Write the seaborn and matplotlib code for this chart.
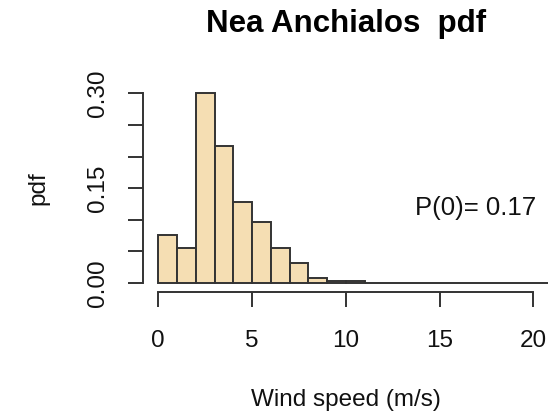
import numpy as np
import pandas as pd
import matplotlib
matplotlib.use("Agg")
import matplotlib.pyplot as plt
import seaborn as sns

# ---- data ----
bin_left = list(range(0, 21))  # 1 m/s wide bins, 0..21
density = [0.075, 0.055, 0.300, 0.217, 0.128, 0.097, 0.055, 0.031, 0.008,
           0.003, 0.002, 0, 0, 0, 0, 0, 0, 0, 0, 0, 0]
p_zero = 0.17
x_ticks = [0, 5, 10, 15, 20]
y_ticks = [0.00, 0.05, 0.10, 0.15, 0.20, 0.25, 0.30]
y_ticklabels = ["0.00", "", "", "0.15", "", "", "0.30"]
title = "Nea Anchialos  pdf"
xlabel = "Wind speed (m/s)"
ylabel = "pdf"

sns.set_style("white")
plt.rcParams['font.family'] = ['Liberation Sans', 'DejaVu Sans']

df = pd.DataFrame({"speed": [b + 0.5 for b in bin_left], "dens": density})
edges = bin_left + [bin_left[-1] + 1]

W, H = 560, 419
fig = plt.figure(figsize=(W / 100, H / 100), dpi=100)
L, R, B, T = 143.3, 548.3, 292.3, 84.0
ax = fig.add_axes([L / W, 1 - B / H, (R - L) / W, (B - T) / H])

sns.histplot(data=df, x="speed", weights="dens", bins=edges, stat="count",
             color="#F5DEB3", alpha=1.0, edgecolor="#333333", linewidth=1.4,
             ax=ax)

ax.set_xlim(-0.8, 20.8)
ax.set_ylim(-0.0152, 0.315)

for s in ["top", "right"]:
    ax.spines[s].set_visible(False)
for s in ["left", "bottom"]:
    ax.spines[s].set_color("#333333")
    ax.spines[s].set_linewidth(1.4)
ax.spines["bottom"].set_bounds(0, 20)
ax.spines["left"].set_bounds(0, 0.30)

fs = 17.5
ax.set_xticks(x_ticks)
ax.set_xticklabels([str(t) for t in x_ticks], fontsize=fs)
ax.set_yticks(y_ticks)
ax.set_yticklabels(y_ticklabels, fontsize=fs, rotation=90, va="center")
ax.tick_params(axis="both", direction="out", length=11, width=1.4,
               color="#333333", labelcolor="#111111",
               bottom=True, left=True)
ax.tick_params(axis="x", pad=16)
ax.tick_params(axis="y", pad=14)

ax.set_xlabel(xlabel, fontsize=fs, color="#111111", va="center", ha="center")
ax.xaxis.set_label_coords(0.5005, (B - 400) / (B - T))
ax.set_ylabel(ylabel, fontsize=fs, color="#111111", va="center", ha="center")
ax.yaxis.set_label_coords((38 - L) / (R - L), 0.5)

ax.set_title(title, fontsize=22.5, fontweight="bold", color="black",
             y=(B - 24) / (B - T), va="center", pad=0)

ax.text((415 - L) / (R - L), (B - 208) / (B - T), f"P(0)= {p_zero:.2f}",
        transform=ax.transAxes, fontsize=18.5, color="#111111",
        ha="left", va="center")

fig.savefig("out.png", dpi=100)
